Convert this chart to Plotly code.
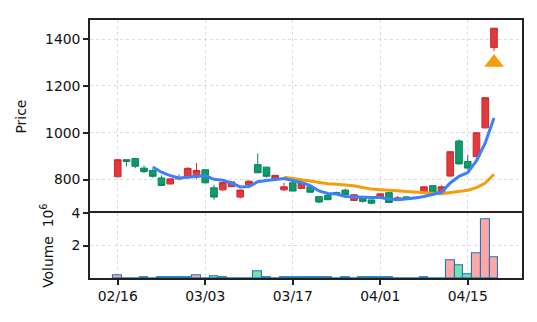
import plotly.graph_objects as go
import pandas as pd

# ---- data ----
idx = list(range(44))
opens = [812, 885, 890, 849, 839, 807, 781, 803, 814, 811,
         842, 765, 756, 770, 725, 777, 864, 853, 800, 756,
         786, 762, 769, 727, 732, 745, 755, 711, 720, 713,
         720, 744, 712, 726, 722, 748, 774, 746, 815, 965,
         877, 898, 1021, 1364]
highs = [887, 886, 891, 860, 845, 818, 804, 822, 853, 870,
         846, 778, 790, 792, 757, 797, 912, 855, 819, 786,
         790, 787, 776, 729, 735, 748, 761, 739, 722, 714,
         740, 746, 730, 728, 725, 770, 776, 775, 920, 972,
         905, 1001, 1152, 1448]
lows = [811, 856, 848, 828, 808, 775, 780, 797, 812, 801,
        784, 714, 751, 768, 719, 775, 829, 808, 799, 751,
        750, 760, 745, 699, 712, 738, 733, 709, 702, 694,
        718, 700, 710, 718, 718, 746, 744, 744, 813, 865,
        842, 896, 1019, 1349]
closes = [885, 877, 857, 834, 814, 775, 803, 808, 848, 839,
          786, 725, 787, 790, 755, 793, 829, 814, 818, 769,
          751, 786, 746, 704, 714, 740, 735, 735, 707, 699,
          739, 702, 722, 720, 724, 769, 746, 769, 919, 867,
          849, 1000, 1150, 1447]
volumes = [0.19, 0.0, 0.0, 0.07, 0.0, 0.04, 0.04, 0.04, 0.04, 0.19,
           0.0, 0.13, 0.06, 0.0, 0.0, 0.0, 0.44, 0.06, 0.0, 0.05,
           0.03, 0.03, 0.03, 0.03, 0.03, 0.0, 0.03, 0.0, 0.03, 0.03,
           0.03, 0.03, 0.0, 0.0, 0.0, 0.03, 0.0, 0.0, 1.125, 0.81,
           0.25, 1.5, 3.63, 1.31]
tick_pos = [0, 10, 20, 30, 40]
tick_labels = ["02/16", "03/03", "03/17", "04/01", "04/15"]
signal_x = [43]
signal_y = [1300]

ma_short = pd.Series(closes).rolling(5).mean()
ma_long = pd.Series(closes).rolling(20).mean()

RED_FILL, RED_LINE = "#e03a3e", "#cf2a2f"
GRN_FILL, GRN_LINE = "#0f9b6c", "#0a875c"
vol_colors = ["#ffa6a6" if c >= o else "#77e0b0" for o, c in zip(opens, closes)]

FONT = "DejaVu Sans"
FS = 13.9
AX = "#222222"
GRID = "#dcdcdc"

fig = go.Figure()
fig.add_trace(go.Candlestick(
    x=idx, open=opens, high=highs, low=lows, close=closes,
    increasing=dict(line=dict(color=RED_LINE, width=1), fillcolor=RED_FILL),
    decreasing=dict(line=dict(color=GRN_LINE, width=1), fillcolor=GRN_FILL),
    whiskerwidth=0, xaxis="x", yaxis="y", showlegend=False))
fig.add_trace(go.Scatter(x=idx, y=ma_long, mode="lines",
                         line=dict(color="#f59e0b", width=3), xaxis="x", yaxis="y",
                         showlegend=False))
fig.add_trace(go.Scatter(x=idx, y=ma_short, mode="lines",
                         line=dict(color="#3b82f6", width=3), xaxis="x", yaxis="y",
                         showlegend=False))
fig.add_trace(go.Scatter(x=signal_x, y=signal_y, mode="markers",
                         marker=dict(symbol="triangle-up", size=17, color="#f59e0b"),
                         xaxis="x", yaxis="y", showlegend=False))
fig.add_trace(go.Bar(x=idx, y=volumes, width=1.0,
                     marker=dict(color=vol_colors, line=dict(color="#1f77b4", width=1.1)),
                     xaxis="x2", yaxis="y2", showlegend=False))

XR = [-3.17, 46.2]
split = 66 / 263

common_x = dict(range=XR, tickvals=tick_pos, showgrid=True, gridcolor=GRID,
                griddash="dot", gridwidth=1, showline=True,
                linecolor=AX, linewidth=1.6, zeroline=False)
fig.update_layout(
    width=537, height=322,
    margin=dict(l=90, r=15, t=15, b=44),
    paper_bgcolor="white", plot_bgcolor="white",
    font=dict(family=FONT, size=FS, color="#111111"),
    boxgap=0.24, boxgroupgap=0,
    bargap=0,
    xaxis=dict(**common_x, anchor="y", side="top", mirror=False,
               showticklabels=False, ticks="",
               rangeslider=dict(visible=False)),
    yaxis=dict(domain=[split, 1], range=[656, 1482], tickvals=[800, 1000, 1200, 1400],
               ticks="outside", ticklen=5, tickwidth=1.5, tickcolor=AX,
               showgrid=True, gridcolor=GRID, griddash="dot", gridwidth=1,
               showline=True, mirror=True, linecolor=AX, linewidth=1.6,
               zeroline=False, anchor="x",
               title=dict(text="Price", standoff=15, font=dict(size=FS))),
    xaxis2=dict(**common_x, anchor="y2", mirror=True, ticktext=tick_labels,
                ticks="outside", ticklen=5, tickwidth=1.5, tickcolor=AX),
    yaxis2=dict(domain=[0, split], range=[0, 4], tickvals=[2, 4],
                ticks="outside", ticklen=5, tickwidth=1.5, tickcolor=AX,
                showgrid=True, gridcolor=GRID, griddash="dot", gridwidth=1,
                showline=True, mirror=True, linecolor=AX, linewidth=1.6,
                zeroline=False, anchor="x2",
                title=dict(text="Volume  10<sup>6</sup>", standoff=15, font=dict(size=FS))),
)

fig.write_html("out.html")
